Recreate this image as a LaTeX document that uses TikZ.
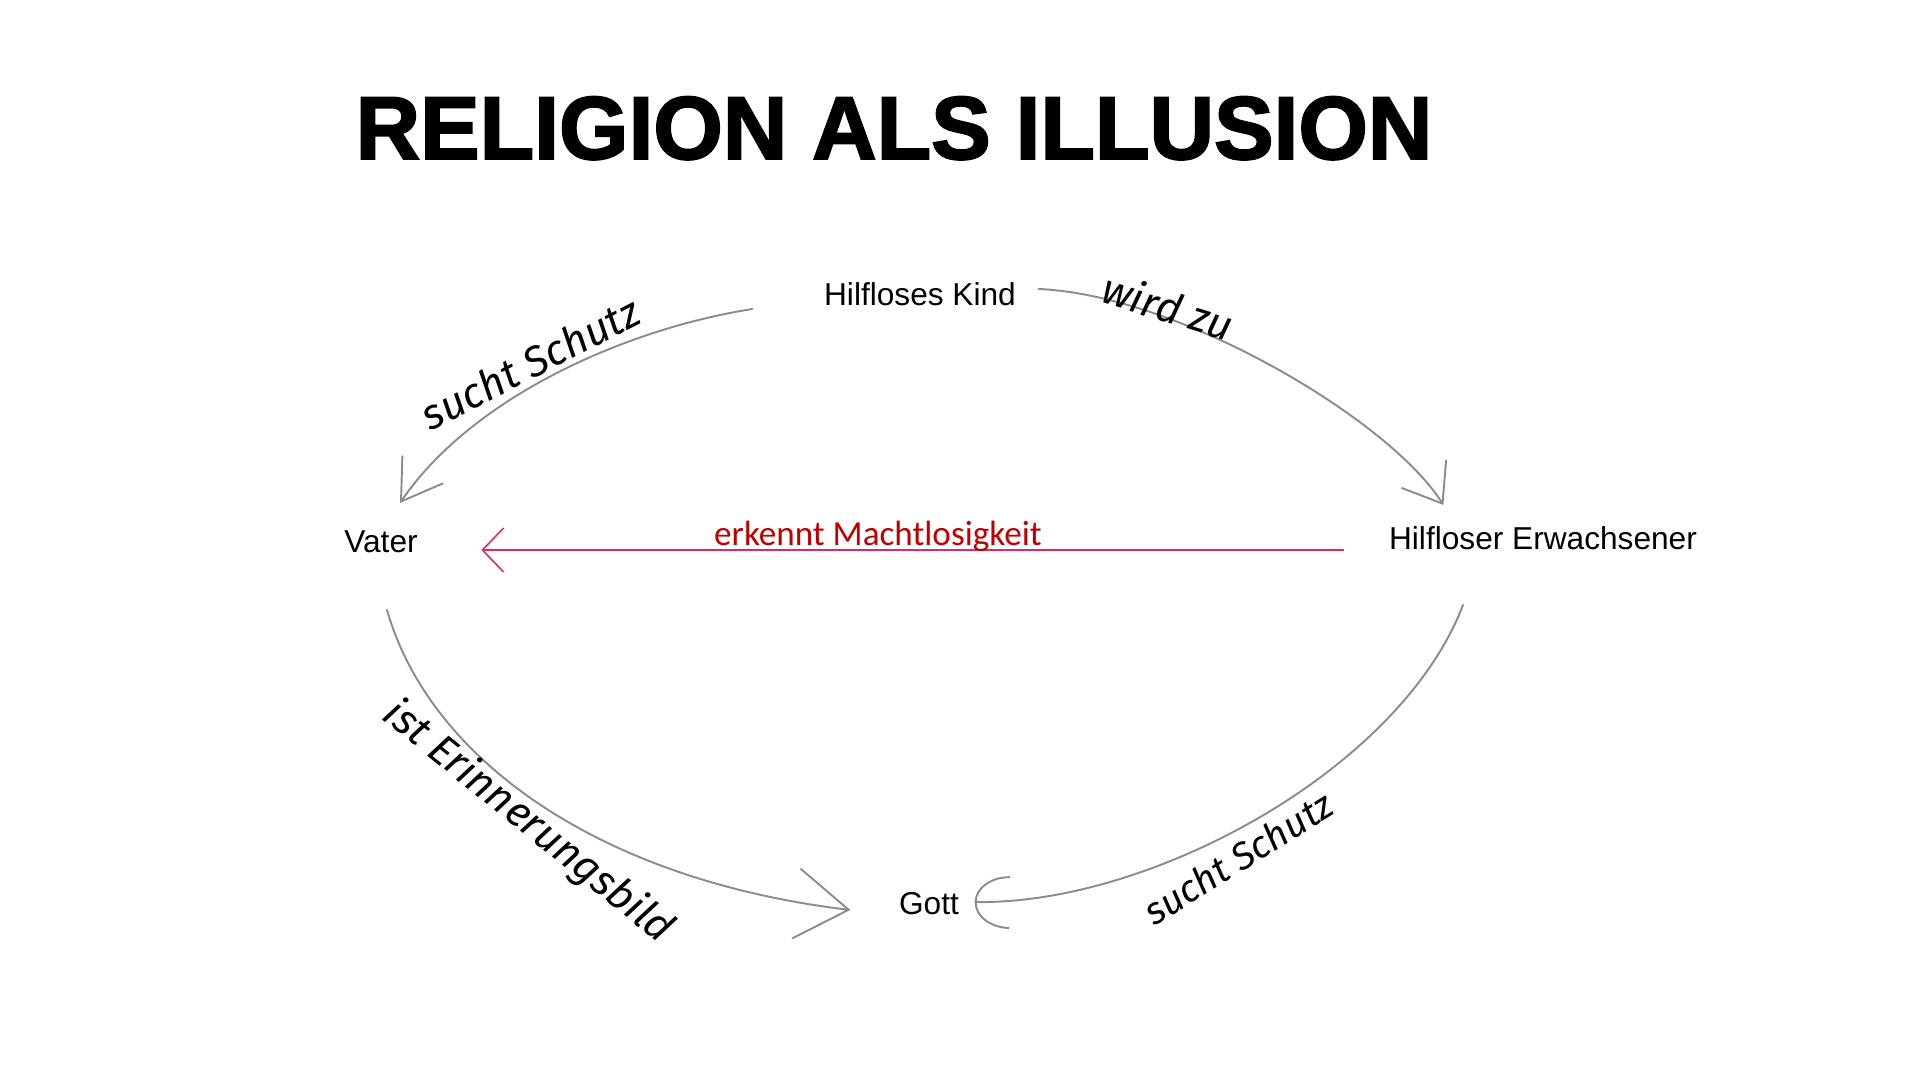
\documentclass[tikz,border=0pt]{standalone}
\usepackage{fontspec}
\setmainfont{Liberation Sans}
\newfontfamily\titlefont[BoldFeatures={FakeBold=2.2}]{Liberation Sans}
\newfontfamily\calibrifont{Carlito}
\newfontfamily\handfont{Fira Sans}
\usetikzlibrary{arrows.meta}
\definecolor{pencilgray}{HTML}{8C8C8C}
\definecolor{insightred}{HTML}{C00000}
\definecolor{insightline}{HTML}{DC2A66}

\begin{document}
\begin{tikzpicture}
	[x=0.01cm,y=-0.01cm,
	 concept/.style={font=\fontsize{9}{11}\selectfont,inner sep=0pt,anchor=base},
	 hand/.style={font=\handfont\itshape\fontsize{12}{14}\selectfont,inner sep=0pt},
	 pencil/.style={draw=pencilgray,line width=0.55pt,line cap=round},
	 insight/.style={draw=insightline,line width=0.45pt,line cap=round}]

	\useasboundingbox (0,0) rectangle (1920,1080);

	\node[font=\titlefont\bfseries\fontsize{25.4}{30}\selectfont,anchor=base,inner sep=0pt] (title) at (894,159) {RELIGION ALS ILLUSION};

	\node[concept] (kind) at (920,306) {Hilfloses Kind};
	\node[concept] (vater) at (381,553) {Vater};
	\node[concept] (erwachsener) at (1543,550) {Hilfloser Erwachsener};
	\node[concept] (gott) at (929,915) {Gott};

	% pencil arrows round the circle
	\draw[pencil,-{Straight Barb[length=11pt,width=14pt]}] ([shift={(-71,3)}]kind.base west) .. controls (620,330) and (470,400) .. ([shift={(19,-50)}]vater.base);
	\draw[pencil,-{Straight Barb[length=10pt,width=15pt]}] ([shift={(22,-17)}]kind.base east) .. controls (1180,295) and (1390,420) .. ([shift={(55,-45)}]erwachsener.base west);
	\draw[pencil,-{Straight Barb[length=15pt,width=20pt]}] ([shift={(6,57)}]vater.base) .. controls (430,760) and (600,880) .. ([shift={(-48,-5)}]gott.base west);
	\draw[pencil,-{Arc Barb[length=10pt,width=15pt]}] ([shift={(-80,55)}]erwachsener.base) .. controls (1400,770) and (1150,905) .. ([shift={(15,-13)}]gott.base east);

	\draw[insight,-{Straight Barb[length=6pt,width=12.5pt]}] ([shift={(-45,0)}]erwachsener.base west) -- ([shift={(63,-3)}]vater.base east)
		node[pos=0.54,anchor=base,yshift=1.2pt,inner sep=0pt,text=insightred,font=\calibrifont\fontsize{10}{12}\selectfont] (machtlos) {erkennt Machtlosigkeit};

	% handwritten labels
	\node[hand,rotate=27] (schutzvater) at (530,363) {sucht Schutz};
	\node[hand,rotate=-17] (wirdzu) at (1168,306) {wird zu};
	\node[hand,rotate=-39] (erinnerung) at (528,822) {ist Erinnerungsbild};
	\node[hand,rotate=32,scale=0.9] (schutzgott) at (1238,858) {sucht Schutz};
\end{tikzpicture}
\end{document}
